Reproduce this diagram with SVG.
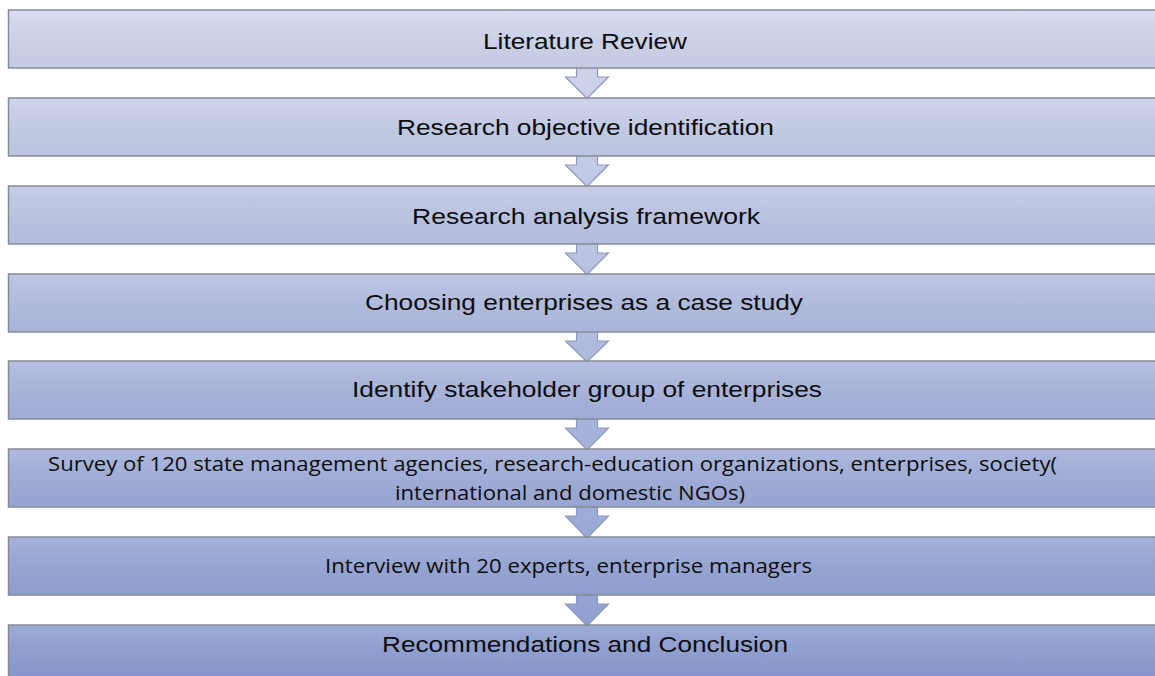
<svg xmlns="http://www.w3.org/2000/svg" width="1155" height="676" viewBox="0 0 1155 676">
  <defs>
    <!-- one gradient across the whole stack: light lavender at the top, deeper blue at the bottom -->
    <linearGradient id="stackFill" gradientUnits="userSpaceOnUse" x1="0" y1="10" x2="0" y2="676">
      <stop offset="0" stop-color="#d3d9ec"/>
      <stop offset="1" stop-color="#8c9cd0"/>
    </linearGradient>
    <!-- subtle per-box sheen -->
    <linearGradient id="sheen" x1="0" y1="0" x2="0" y2="1">
      <stop offset="0" stop-color="#ffffff" stop-opacity="0.10"/>
      <stop offset="1" stop-color="#1a2a60" stop-opacity="0.05"/>
    </linearGradient>
    <style>
      .box { fill: url(#stackFill); stroke: #858a96; stroke-width: 1.5; }
      .sheen { fill: url(#sheen); stroke: none; }
      .arrow { fill: url(#stackFill); stroke: #8e99b9; stroke-width: 1.2; stroke-linejoin: miter; }
      .lbl { font-family: "Liberation Sans", Arial, sans-serif; font-size: 22px; fill: #0d0d0d; text-anchor: middle; }
      .lbl2 { font-family: "Open Sans", "Noto Sans", sans-serif; font-size: 20px; fill: #0d0d0d; }
    </style>
  </defs>

  <rect width="1155" height="676" fill="#ffffff"/>

  <!-- connectors: block arrows between consecutive steps -->
  <g id="connectors">
    <path class="arrow" d="M576.5,66 V77 H565.5 L587,98.5 L608.5,77 H597.5 V66"/>
    <path class="arrow" d="M576.5,154 V165 H565.5 L587,186.5 L608.5,165 H597.5 V154"/>
    <path class="arrow" d="M576.5,242 V253 H565.5 L587,274.5 L608.5,253 H597.5 V242"/>
    <path class="arrow" d="M576.5,330 V341 H565.5 L587,362 L608.5,341 H597.5 V330"/>
    <path class="arrow" d="M576.5,417 V428 H565.5 L587,450 L608.5,428 H597.5 V417"/>
    <path class="arrow" d="M576.5,505 V516 H565.5 L587,538.5 L608.5,516 H597.5 V505"/>
    <path class="arrow" d="M576.5,593 V604 H565.5 L587,626 L608.5,604 H597.5 V593"/>
  </g>

  <g id="step1">
    <rect class="box" x="8.5" y="10" width="1160" height="58"/>
    <rect class="sheen" x="9.5" y="11" width="1150" height="56"/>
    <text class="lbl" x="585" y="48.5" textLength="204" lengthAdjust="spacingAndGlyphs">Literature Review</text>
  </g>

  <g id="step2">
    <rect class="box" x="8.5" y="98" width="1160" height="58"/>
    <rect class="sheen" x="9.5" y="99" width="1150" height="56"/>
    <text class="lbl" x="585.5" y="135" textLength="377" lengthAdjust="spacingAndGlyphs">Research objective identification</text>
  </g>

  <g id="step3">
    <rect class="box" x="8.5" y="186" width="1160" height="58"/>
    <rect class="sheen" x="9.5" y="187" width="1150" height="56"/>
    <text class="lbl" x="586" y="223.5" textLength="348" lengthAdjust="spacingAndGlyphs">Research analysis framework</text>
  </g>

  <g id="step4">
    <rect class="box" x="8.5" y="274" width="1160" height="58"/>
    <rect class="sheen" x="9.5" y="275" width="1150" height="56"/>
    <text class="lbl" x="584" y="310" textLength="438" lengthAdjust="spacingAndGlyphs">Choosing enterprises as a case study</text>
  </g>

  <g id="step5">
    <rect class="box" x="8.5" y="361" width="1160" height="58"/>
    <rect class="sheen" x="9.5" y="362" width="1150" height="56"/>
    <text class="lbl" x="587" y="396.5" textLength="470" lengthAdjust="spacingAndGlyphs">Identify stakeholder group of enterprises</text>
  </g>

  <g id="step6">
    <rect class="box" x="8.5" y="449" width="1160" height="58"/>
    <rect class="sheen" x="9.5" y="450" width="1150" height="56"/>
    <text class="lbl2" x="48" y="471" textLength="1009" lengthAdjust="spacingAndGlyphs">Survey of 120 state management agencies, research-education organizations, enterprises, society(</text>
    <text class="lbl2" x="395" y="499.5" textLength="350" lengthAdjust="spacingAndGlyphs">international and domestic NGOs)</text>
  </g>

  <g id="step7">
    <rect class="box" x="8.5" y="537" width="1160" height="58"/>
    <rect class="sheen" x="9.5" y="538" width="1150" height="56"/>
    <text class="lbl2" x="325" y="573" textLength="487" lengthAdjust="spacingAndGlyphs">Interview with 20 experts, enterprise managers</text>
  </g>

  <g id="step8">
    <rect class="box" x="8.5" y="625" width="1160" height="60"/>
    <rect class="sheen" x="9.5" y="626" width="1150" height="58"/>
    <text class="lbl" x="585" y="652" textLength="406" lengthAdjust="spacingAndGlyphs">Recommendations and Conclusion</text>
  </g>
</svg>
